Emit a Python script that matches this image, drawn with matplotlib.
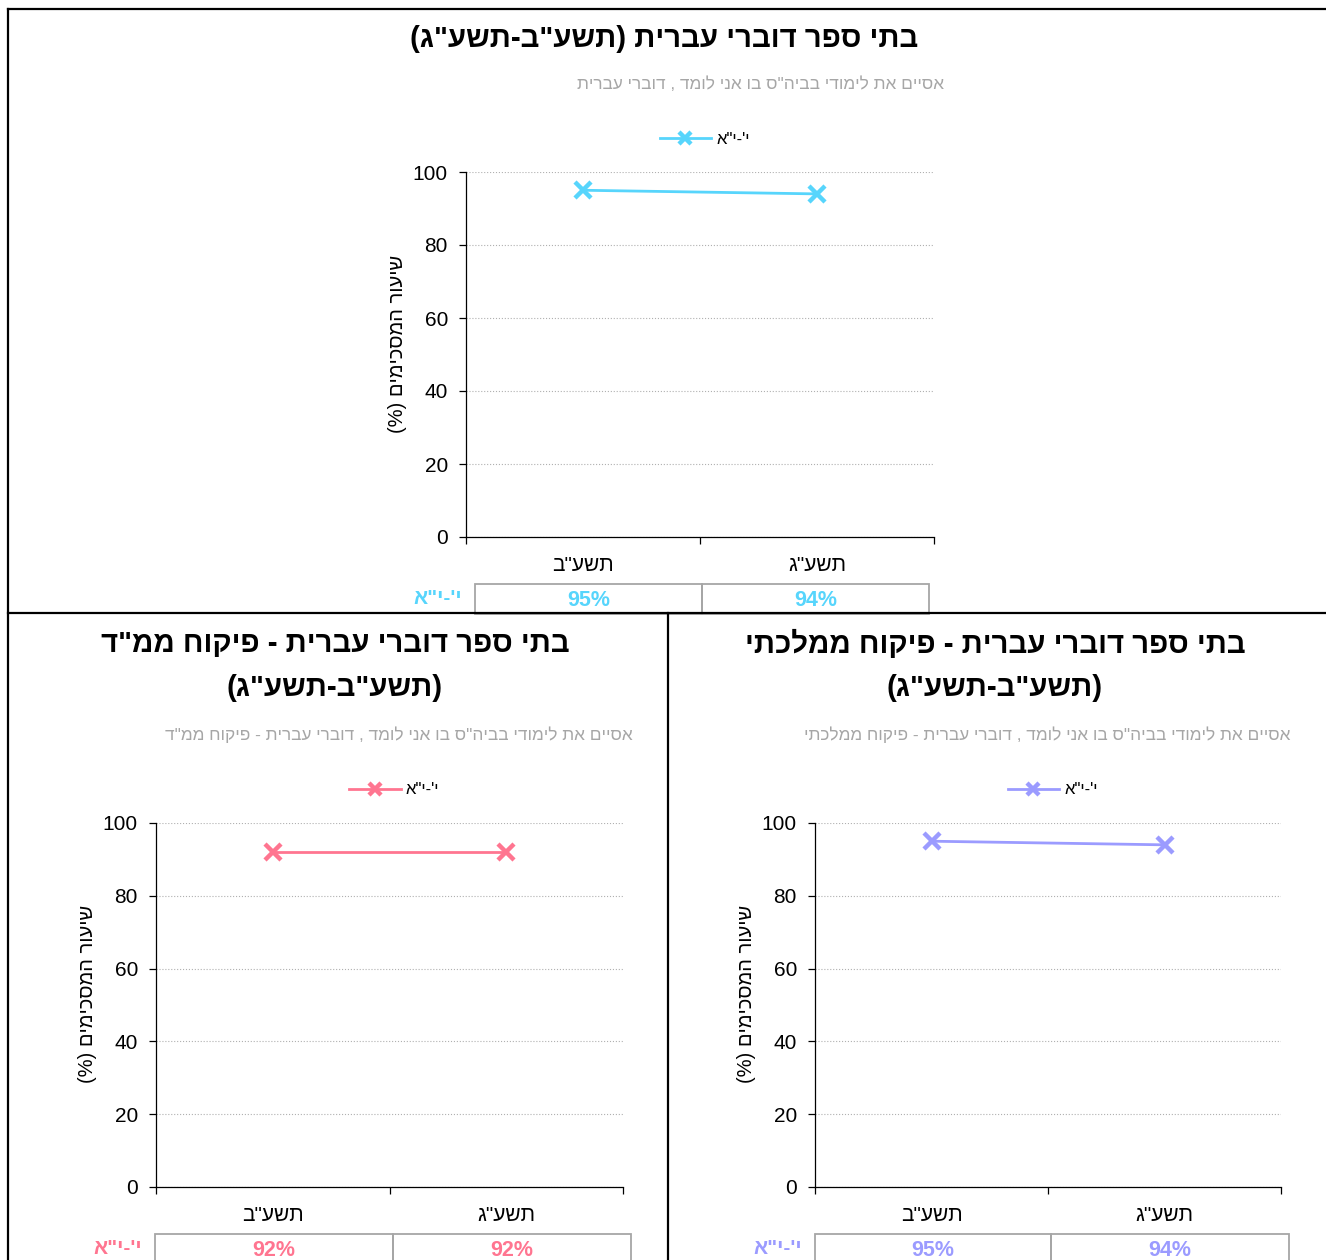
import matplotlib
matplotlib.use("Agg")
import matplotlib.pyplot as plt
from matplotlib.lines import Line2D
from matplotlib.patches import Rectangle

plt.rcParams['font.family'] = ['Liberation Sans', 'DejaVu Sans']

W, H = 1326, 1260

# data
years = ['תשע"ב', 'תשע"ג']
series_name = 'י\'-י"א'
all_values = [95, 94]
mamad_values = [92, 92]
mamlachti_values = [95, 94]

ylabel = 'שיעור המסכימים (%)'
question = 'אסיים את לימודי בביה"ס בו אני לומד , דוברי עברית'


def heb(s):
    # matplotlib does no bidi: reverse to visual order and swap the brackets
    return s[::-1].translate(str.maketrans('()', ')('))


def px_axes(fig, l, t, r, b):
    return fig.add_axes([l / W, 1 - b / H, (r - l) / W, (b - t) / H])


def draw_panel(ax, values, color, subtitle, table_px):
    w = ax.get_position().width * W
    h = ax.get_position().height * H
    x = range(len(years))

    ax.plot(x, values, color=color, lw=2, marker='x', ms=11, mew=3.2,
            label=heb(series_name), clip_on=False, zorder=3)
    ax.set_xlim(-0.5, len(years) - 0.5)
    ax.set_ylim(0, 100)
    ax.set_yticks(range(0, 101, 20))
    ax.grid(axis='y', color='#b0b0b0', ls=':', lw=0.8)
    ax.spines['top'].set_visible(False)
    ax.spines['right'].set_visible(False)
    for s in ['left', 'bottom']:
        ax.spines[s].set_linewidth(0.9)

    ax.set_xticks([-0.5, 0.5, 1.5])
    ax.set_xticklabels([])
    ax.set_xticks(list(x), minor=True)
    ax.set_xticklabels([heb(y) for y in years], minor=True)
    ax.tick_params(axis='x', which='minor', length=0, pad=14, labelsize=15)
    ax.tick_params(axis='x', which='major', length=5, width=0.9)
    ax.tick_params(axis='y', length=5, width=0.9, pad=8, labelsize=15)
    ax.set_ylabel(heb(ylabel), fontsize=14.5)
    ax.yaxis.set_label_coords(-59 / w, 0.53)

    ax.legend(loc='center', bbox_to_anchor=(0.51, 1 + 33 / h), frameon=False,
              fontsize=12, handlelength=3.1, handletextpad=0.3, borderpad=0,
              markerscale=0.8)

    ax.text(1 + 10 / w, 1 + 88 / h, heb(subtitle), transform=ax.transAxes,
            ha='right', va='center', fontsize=12.4, color='#a6a6a6')

    # data table under the axis
    top = -47 / h
    rh = 30 / h
    edges = [p / w for p in table_px]
    for i in range(len(years)):
        ax.add_patch(Rectangle((edges[i], top - rh), edges[i + 1] - edges[i], rh,
                               transform=ax.transAxes, clip_on=False,
                               fill=False, ec='#a6a6a6', lw=1.3))
        ax.text((edges[i] + edges[i + 1]) / 2, top - 17 / h, f'{values[i]}%',
                transform=ax.transAxes, ha='center', va='center',
                fontsize=15.5, fontweight='bold', color=color)
    ax.text(edges[0] - 13 / w, top - 15 / h, heb(series_name), transform=ax.transAxes,
            ha='right', va='center', fontsize=15, fontweight='bold', color=color)


fig = plt.figure(figsize=(W / 100, H / 100), dpi=100)

ax1 = px_axes(fig, 466, 172, 934, 537)
draw_panel(ax1, all_values, '#57d5fc', question, [9, 236, 463])
fig.text(664 / W, 1 - 39 / H, heb('בתי ספר דוברי עברית (תשע"ב-תשע"ג)'),
         ha='center', va='center', fontsize=21.2, fontweight='bold')

ax2 = px_axes(fig, 156, 823, 623, 1187)
draw_panel(ax2, mamad_values, '#ff7590', question + ' - פיקוח ממ"ד', [-1, 237, 475])
fig.text(335 / W, 1 - 644 / H, heb('בתי ספר דוברי עברית - פיקוח ממ"ד'),
         ha='center', va='center', fontsize=21.2, fontweight='bold')
fig.text(335 / W, 1 - 688 / H, heb('(תשע"ב-תשע"ג)'),
         ha='center', va='center', fontsize=21.2, fontweight='bold')

ax3 = px_axes(fig, 815, 823, 1281, 1187)
draw_panel(ax3, mamlachti_values, '#9b9bff', question + ' - פיקוח ממלכתי', [0, 236, 474])
fig.text(995 / W, 1 - 644 / H, heb('בתי ספר דוברי עברית - פיקוח ממלכתי'),
         ha='center', va='center', fontsize=21.2, fontweight='bold')
fig.text(995 / W, 1 - 688 / H, heb('(תשע"ב-תשע"ג)'),
         ha='center', va='center', fontsize=21.2, fontweight='bold')

# panel frame lines
for (x0, y0), (x1, y1) in [((8, 9), (1326, 9)), ((8, 9), (8, 1260)),
                           ((8, 613), (1326, 613)), ((668, 613), (668, 1260))]:
    fig.add_artist(Line2D([x0 / W, x1 / W], [1 - y0 / H, 1 - y1 / H],
                          color='black', lw=1.6, zorder=10))

fig.savefig('out.png', dpi=100)
